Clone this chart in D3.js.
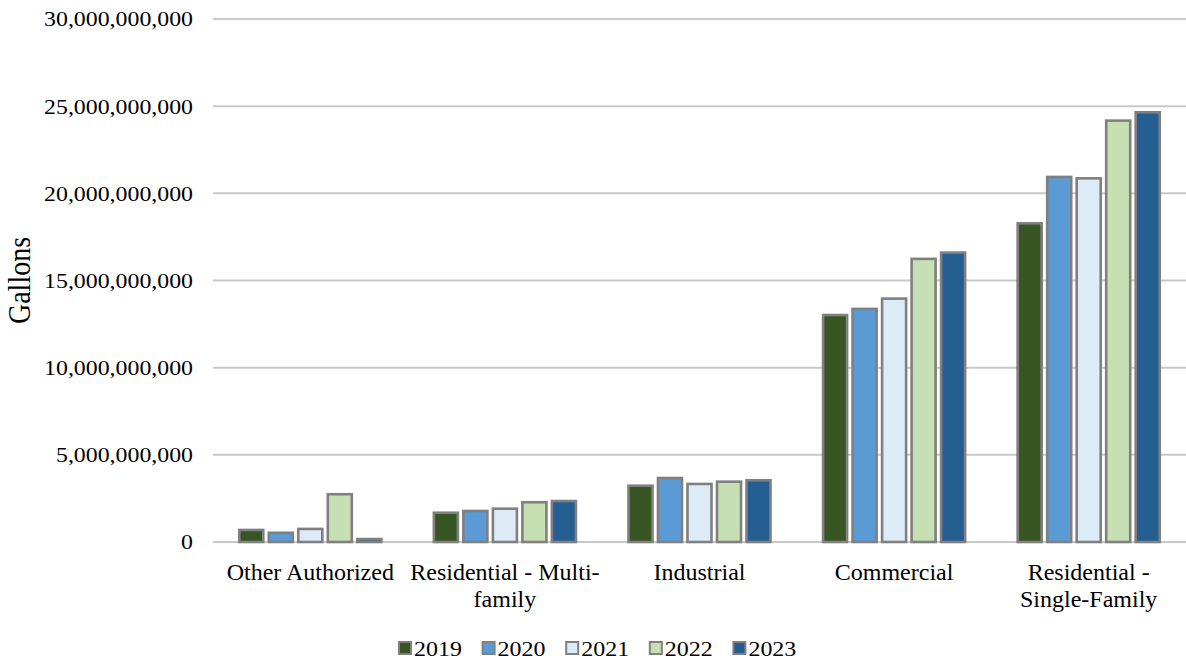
<!DOCTYPE html>
<html>
<head>
<meta charset="utf-8">
<script src="https://cdn.jsdelivr.net/npm/d3@7"></script>
<style>
  html, body { margin: 0; padding: 0; background: #ffffff; }
  svg { display: block; }
</style>
</head>
<body>
<svg id="chart" width="1186" height="660"></svg>
<script>
const categories = ["Other Authorized", "Residential - Multi-family", "Industrial", "Commercial", "Residential - Single-Family"];
const categoryLines = [["Other Authorized"], ["Residential - Multi-", "family"], ["Industrial"], ["Commercial"], ["Residential -", "Single-Family"]];
const years = ["2019", "2020", "2021", "2022", "2023"];
const v2019 = [690e6, 1680e6, 3230e6, 13020e6, 18280e6];
const v2020 = [530e6, 1780e6, 3670e6, 13370e6, 20940e6];
const v2021 = [750e6, 1910e6, 3330e6, 13960e6, 20860e6];
const v2022 = [2740e6, 2280e6, 3460e6, 16240e6, 24170e6];
const v2023 = [170e6, 2350e6, 3540e6, 16600e6, 24650e6];
const yTicks = [0, 5e9, 10e9, 15e9, 20e9, 25e9, 30e9];
const colors = ["#375623", "#5B9BD5", "#DDEBF7", "#C6E0B4", "#255E91"];

const FONT = "'Liberation Serif', 'Times New Roman', 'DejaVu Serif', serif";
const series = [v2019, v2020, v2021, v2022, v2023];
const svg = d3.select("#chart").attr("font-family", FONT);
const margin = { left: 213, right: 0, top: 19, bottom: 118 };
const W = 1186, H = 660;
const x0 = d3.scaleBand().domain(categories).range([margin.left, W - margin.right]).paddingInner(0.27).paddingOuter(0.135);
const x1 = d3.scaleBand().domain(years).range([0, x0.bandwidth()]).paddingInner(0.186);
const y = d3.scaleLinear().domain([0, 30e9]).range([H - margin.bottom, margin.top]);
const fmt = d3.format(",");

// gridlines
svg.append("g").selectAll("line").data(yTicks).join("line")
  .attr("x1", margin.left).attr("x2", W)
  .attr("y1", d => y(d)).attr("y2", d => y(d))
  .attr("stroke", "#c9c9c9").attr("stroke-width", 2);

// y axis labels
svg.append("g").selectAll("text").data(yTicks).join("text")
  .attr("transform", d => `translate(193, ${y(d)}) scale(1.135, 1)`)
  .attr("dy", "0.35em")
  .attr("text-anchor", "end").attr("font-size", 21).attr("font-family", FONT)
  .text(d => fmt(d));

// y title
svg.append("text")
  .attr("transform", `translate(30, ${y(15e9)}) scale(1.12, 1) rotate(-90)`)
  .attr("text-anchor", "middle").attr("font-size", 28).attr("font-family", FONT)
  .text("Gallons");

// bars
const gCat = svg.append("g").selectAll("g").data(categories).join("g")
  .attr("transform", d => `translate(${x0(d)},0)`);
gCat.selectAll("rect").data((c, ci) => years.map((yr, si) => ({ yr, si, v: series[si][ci] })))
  .join("rect")
  .attr("x", d => x1(d.yr)).attr("width", x1.bandwidth())
  .attr("y", d => y(d.v)).attr("height", d => y(0) - y(d.v))
  .attr("fill", d => colors[d.si])
  .attr("stroke", "#808080").attr("stroke-width", 2.6);

// category labels
const gl = svg.append("g").selectAll("text").data(categories).join("text")
  .attr("x", d => x0(d) + x0.bandwidth() / 2)
  .attr("y", 580)
  .attr("text-anchor", "middle").attr("font-size", 24).attr("font-family", FONT);
gl.each(function (d, i) {
  const t = d3.select(this);
  categoryLines[i].forEach((line, li) => {
    t.append("tspan").attr("x", x0(d) + x0.bandwidth() / 2).attr("dy", li === 0 ? 0 : 27).text(line);
  });
});

// legend
const legX = d3.scaleBand().domain(years).range([399, 817]);
const lg = svg.append("g").selectAll("g").data(years).join("g")
  .attr("transform", d => `translate(${legX(d)}, 648)`);
lg.append("rect").attr("x", 0).attr("y", -6).attr("width", 12).attr("height", 12)
  .attr("fill", (d, i) => colors[i]).attr("stroke", "#808080").attr("stroke-width", 2);
lg.append("text").attr("transform", "translate(15, 0) scale(1.09, 1)").attr("dy", "0.35em")
  .attr("font-size", 22).attr("font-family", FONT).text(d => d);
</script>
</body>
</html>
